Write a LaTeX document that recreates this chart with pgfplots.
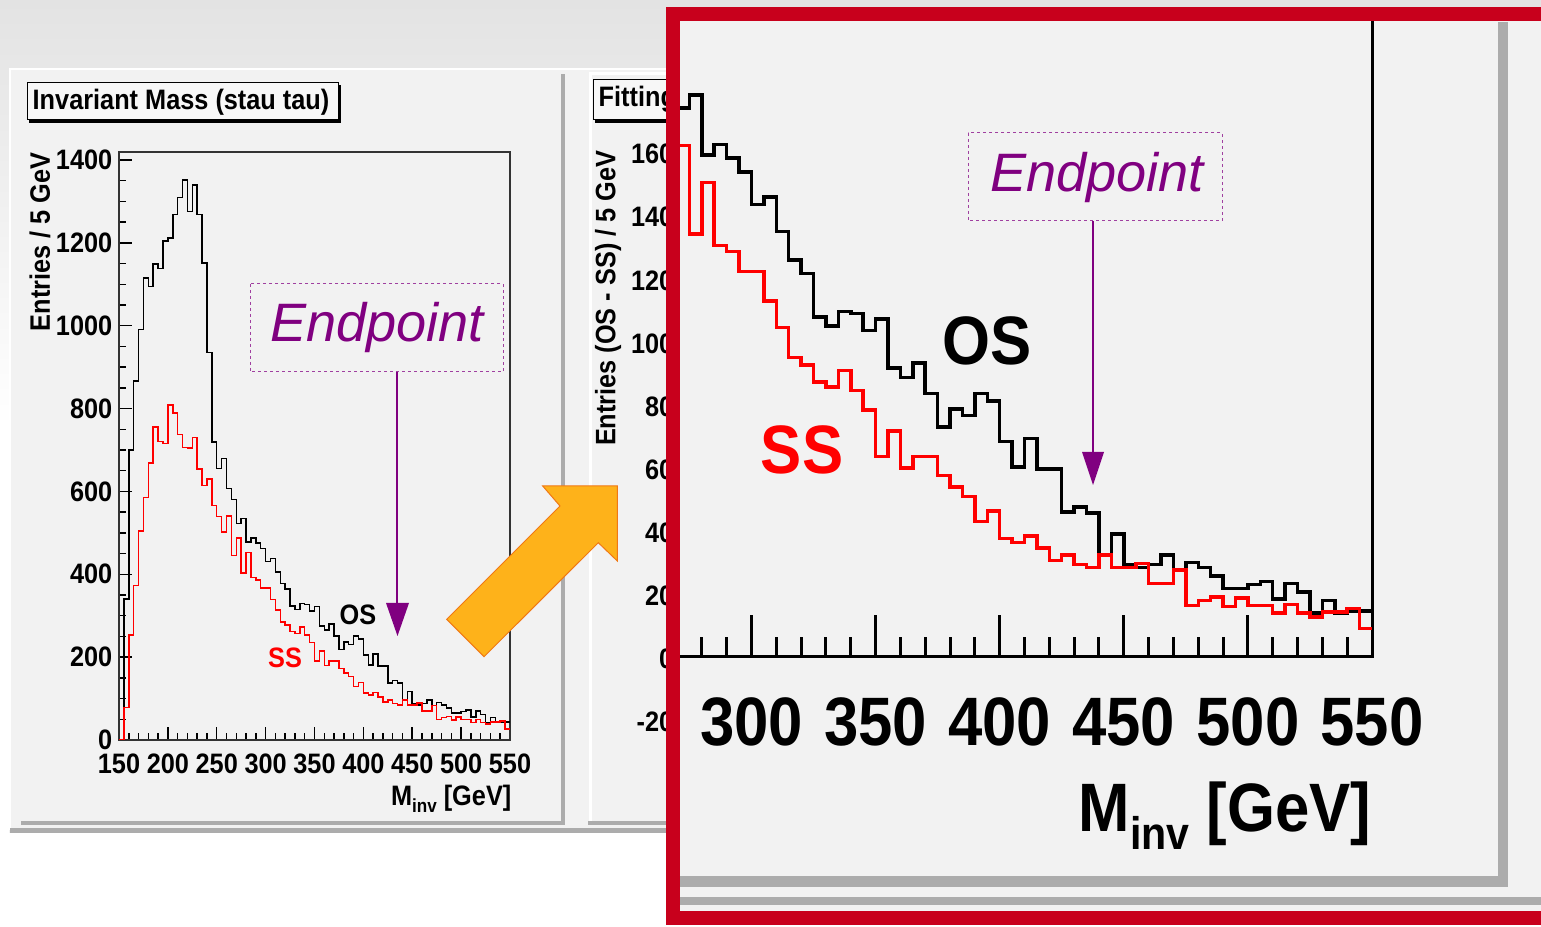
\documentclass[border=0pt]{standalone}
\usepackage{fontspec}
\setmainfont{Liberation Sans}
\newfontfamily\rootf{Liberation Sans}[FakeStretch=0.9]
\usepackage{pgfplots}
\pgfplotsset{compat=1.18}
\usepackage{pgfplotstable}
\definecolor{rootred}{RGB}{200,0,28}
\definecolor{ptl}{RGB}{128,0,128}
\definecolor{canv}{RGB}{242,242,242}
\definecolor{orangefill}{RGB}{254,178,26}
\definecolor{orangeline}{RGB}{240,120,20}
\definecolor{ssred}{RGB}{255,0,0}
\definecolor{shad}{RGB}{172,172,172}
\newcommand\lab{\rootf\bfseries\fontsize{8}{9}\selectfont}
\newcommand\biglab{\rootf\bfseries\fontsize{19.5}{22}\selectfont}
\newcommand\epfont{\fontsize{15.4}{18}\selectfont\itshape}

% bins of 5 GeV, value at left edge (last row closes the outline at 550)
\pgfplotstableread{
x os ss
150 0 0
155 340 78
160 700 253
165 866 373
170 991 504
175 1115 585
180 1095 668
185 1149 755
190 1138 721
195 1205 716
200 1212 808
205 1269 789
210 1309 737
215 1352 706
220 1276 705
225 1340 730
230 1269 654
235 1151 614
240 935 630
245 719 566
250 655 539
255 680 502
260 607 541
265 581 445
270 523 487
275 535 403
280 478 452
285 488 392
290 475 386
295 462 367
300 431 367
305 438 339
310 405 314
315 378 285
320 365 278
325 324 262
330 315 257
335 329 273
340 327 254
345 311 235
350 322 191
355 275 215
360 266 180
365 280 191
370 251 191
375 219 173
380 236 162
385 230 153
390 251 129
395 244 139
400 205 113
405 181 109
410 208 115
415 179 104
420 179 92
425 138 97
430 143 88
435 137 85
440 97 97
445 117 85
450 88 85
455 85 89
460 88 70
465 97 70
470 83 83
475 90 49
480 85 54
485 77 57
490 65 48
495 65 56
500 69 49
505 72 49
510 55 42
515 70 50
520 62 42
525 42 38
530 54 43
535 42 43
540 44 46
545 44 27
550 44 27
}\hist

\tikzset{px/.style={x=0.1mm,y=-0.1mm,shift={(0,92.7mm)}}}

\begin{document}
\begin{tikzpicture}
\useasboundingbox (0,0) rectangle (154.1mm,92.7mm);
\clip (0,0) rectangle (154.1mm,92.7mm);
\fill[white] (0,0) rectangle (154.1mm,92.7mm);
\shade[top color=gray!22, bottom color=white] (0,50mm) rectangle (154.1mm,92.7mm);

% ---------------- ROOT canvases ----------------
\begin{scope}[px]
  \fill[canv] (9,68) rectangle (700,833);
  \draw[white, line width=0.25mm] (10,830) -- (10,69) -- (700,69);
  \fill[shad] (10,828) rectangle (700,833);
  % left pad
  \fill[shad] (561,74) rectangle (565,825);
  \fill[shad] (21,821) rectangle (565,825);
  % middle pad
  \fill[canv] (588,74) rectangle (700,821);
  \draw[white, line width=0.3mm] (590,821) -- (590,74) -- (700,74);
  \fill[shad] (588,821) rectangle (700,825);
  % title boxes
  \draw[black, line width=0.1mm, fill=canv!60!white] (27,83) rectangle (338,120);
  \draw[black, line width=0.3mm] (29,121.5) -- (339.5,121.5) -- (339.5,85);
  \node[anchor=west, inner sep=0pt, font=\lab] at (32,102) {Invariant Mass (stau tau)};
  \draw[black, line width=0.1mm, fill=canv!60!white] (593,80) rectangle (720,120);
  \draw[black, line width=0.3mm] (595,121.5) -- (720,121.5);
  \node[anchor=west, inner sep=0pt, font=\lab] at (598,99) {Fitting of OS-SS};
\end{scope}

% ---------------- left histogram ----------------
\begin{axis}[
  at={(11.9mm,18.7mm)}, anchor=south west,
  scale only axis, width=39.1mm, height=58.8mm,
  xmin=150, xmax=550, ymin=0, ymax=1419.3,
  xtick={150,200,...,550}, minor xtick={150,160,...,550},
  ytick={0,200,...,1400}, minor ytick={0,50,...,1400},
  xtick pos=left, ytick pos=left, tick align=inside,
  major tick length=1.3mm, minor tick length=0.7mm,
  every tick/.style={black, line width=0.15mm},
  axis line style={black!80, line width=0.15mm},
  tick label style={font=\lab},
  /pgf/number format/assume math mode=true,
  /pgf/number format/1000 sep={},
  xticklabel style={inner sep=0pt, anchor=north, yshift=-1.35mm},
  yticklabel style={inner sep=0pt, anchor=east, xshift=-0.6mm},
]
\addplot[const plot, black, line width=0.15mm] table[x=x, y=os] {\hist};
\addplot[const plot, ssred, line width=0.15mm] table[x=x, y=ss] {\hist};
\end{axis}

\begin{scope}[px]
  \node[rotate=90, anchor=east, inner sep=0pt, font=\lab] at (40,152) {Entries / 5 GeV};
  \node[anchor=base east, inner sep=0pt, font=\lab] at (512,806)
     {M\raisebox{-0.7mm}{\fontsize{5.4}{6}\selectfont inv} [GeV]};
  \draw[ptl!75, line width=0.1mm, dash pattern=on 0.3mm off 0.3mm] (250,284) rectangle (503,372);
  \node[ptl, inner sep=0pt, font=\epfont] at (377,328) {Endpoint};
  \draw[ptl, line width=0.12mm] (397,372) -- (397,606);
  \fill[ptl] (386,603) -- (409,603) -- (397.5,636) -- cycle;
  \node[inner sep=0pt, font=\lab] at (358,615) {OS};
  \node[inner sep=0pt, font=\lab, text=ssred] at (285,658) {SS};
  % orange arrow
  \draw[orangeline, line width=0.1mm, fill=orangefill]
    (446.7,619.3) -- (560,506) -- (542.7,486) -- (617.3,486) -- (617.3,561)
    -- (598.3,542.7) -- (484,656.7) -- cycle;
  \node[rotate=90, anchor=east, inner sep=0pt, font=\lab] at (608,150) {Entries (OS - SS) / 5 GeV};
\end{scope}

% ---------------- middle pad y labels ----------------
\begin{axis}[
  at={(67.7mm,18.91mm)}, anchor=south west,
  scale only axis, width=10mm, height=59.95mm,
  xmin=0, xmax=1, ymin=-25, ymax=165,
  hide x axis, axis y line*=left, y axis line style={draw=none},
  xtick=\empty, ytick={-20,0,...,160},
  yticklabels={-20,0,20,40,60,80,100,120,140,160},
  major tick length=0pt,
  yticklabel style={font=\lab, inner sep=0pt, anchor=east, xshift=-0.3mm},
]
\end{axis}

% ---------------- zoom box ----------------
\begin{scope}[px]
  \fill[canv] (673,14) rectangle (1541,918);
  \fill[shad] (1498,22) rectangle (1508,887);
  \fill[shad] (680,876) rectangle (1508,887);
  \fill[shad] (680,897) rectangle (1541,905);
\end{scope}

\begin{axis}[
  at={(67.7mm,27.0mm)}, anchor=south west,
  scale only axis, width=69.5mm, height=64.6mm,
  xmin=270, xmax=550, ymin=0, ymax=615.2,
  xtick={300,350,...,550}, minor xtick={270,280,...,550},
  ytick=\empty,
  xtick pos=left, tick align=inside,
  major tick length=4.2mm, minor tick length=2mm,
  every tick/.style={black, line width=0.3mm},
  axis line style={black, line width=0.3mm},
  tick label style={font=\biglab},
  /pgf/number format/assume math mode=true,
  /pgf/number format/1000 sep={},
  xticklabel style={inner sep=0pt, anchor=north, yshift=-4mm},
]
\addplot[const plot, black, line width=0.35mm] table[x=x, y=os] {\hist};
\addplot[const plot, ssred, line width=0.35mm] table[x=x, y=ss] {\hist};
\end{axis}

\begin{scope}[px]
  \node[anchor=base east, inner sep=0pt, font=\biglab] at (1372,832)
     {M\raisebox{-1.8mm}{\fontsize{13}{14}\selectfont inv} [GeV]};
  \draw[ptl!75, line width=0.1mm, dash pattern=on 0.3mm off 0.3mm] (968,133) rectangle (1222,221);
  \node[ptl, inner sep=0pt, font=\epfont] at (1097,178) {Endpoint};
  \draw[ptl, line width=0.12mm] (1093,221) -- (1093,455);
  \fill[ptl] (1082,452) -- (1104,452) -- (1093,485) -- cycle;
  \node[inner sep=0pt, font=\biglab] at (987,341) {OS};
  \node[inner sep=0pt, font=\biglab, text=ssred] at (802,450) {SS};
  % red frame
  \draw[rootred, line width=1.4mm, miter limit=10] (1580,14.5) -- (673,14.5) -- (673,917.5) -- (1580,917.5);
\end{scope}
\end{tikzpicture}
\end{document}
